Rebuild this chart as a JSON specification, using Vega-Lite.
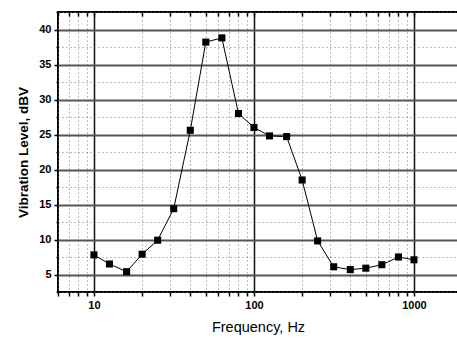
{
  "$schema": "https://vega.github.io/schema/vega-lite/v6.json",
  "width": 400,
  "height": 280,
  "autosize": {"type": "none"},
  "padding": {"left": 58, "top": 12, "right": 0, "bottom": 46},
  "config": {
    "font": "Liberation Sans",
    "view": {"stroke": "#000000", "strokeWidth": 2}
  },
  "data": {
    "values": [
      {"freq": 10, "level": 7.8},
      {"freq": 12.5, "level": 6.5},
      {"freq": 16, "level": 5.4},
      {"freq": 20, "level": 7.9},
      {"freq": 25, "level": 9.9},
      {"freq": 31.5, "level": 14.4},
      {"freq": 40, "level": 25.6},
      {"freq": 50, "level": 38.2},
      {"freq": 63, "level": 38.8},
      {"freq": 80, "level": 28.0},
      {"freq": 100, "level": 26.0},
      {"freq": 125, "level": 24.8},
      {"freq": 160, "level": 24.7},
      {"freq": 200, "level": 18.5},
      {"freq": 250, "level": 9.8},
      {"freq": 315, "level": 6.1},
      {"freq": 400, "level": 5.7},
      {"freq": 500, "level": 5.9},
      {"freq": 630, "level": 6.4},
      {"freq": 800, "level": 7.5},
      {"freq": 1000, "level": 7.1}
    ]
  },
  "resolve": {"axis": {"x": "independent", "y": "independent"}},
  "layer": [
    {
      "mark": {"type": "line", "color": "#000000", "strokeWidth": 1},
      "encoding": {
        "x": {
          "field": "freq",
          "type": "quantitative",
          "scale": {"type": "log", "domain": [5.96, 1884], "nice": false},
          "axis": {
            "orient": "bottom",
            "title": "Frequency, Hz",
            "titleFont": "Liberation Sans",
            "titleFontSize": 14.5,
            "titleFontWeight": "normal",
            "titleColor": "#000000",
            "titlePadding": 10,
            "values": [6, 7, 8, 9, 10, 20, 30, 40, 50, 60, 70, 80, 90, 100, 200, 300, 400, 500, 600, 700, 800, 900, 1000],
            "format": "d",
            "labelExpr": "(datum.value == 10 || datum.value == 100 || datum.value == 1000) ? datum.label : ''",
            "labelOverlap": false,
            "labelFontSize": 11,
            "labelFontWeight": "bold",
            "labelColor": "#000000",
            "labelPadding": 3,
            "domain": false,
            "ticks": true,
            "tickColor": "#000000",
            "tickWidth": 1.5,
            "tickSize": 4,
            "grid": true,
            "gridColor": {"condition": {"test": "datum.value == 10 || datum.value == 100 || datum.value == 1000", "value": "#111111"}, "value": "#777777"},
            "gridWidth": {"condition": {"test": "datum.value == 10 || datum.value == 100 || datum.value == 1000", "value": 1.5}, "value": 1},
            "gridDash": {"condition": {"test": "datum.value == 10 || datum.value == 100 || datum.value == 1000", "value": []}, "value": [1, 3]}
          }
        },
        "y": {
          "field": "level",
          "type": "quantitative",
          "scale": {"domain": [2.5, 42.5], "nice": false, "zero": false},
          "axis": {
            "orient": "left",
            "title": "Vibration Level, dBV",
            "titleFont": "Liberation Sans",
            "titleFontSize": 13.5,
            "titleFontWeight": "bold",
            "titleColor": "#000000",
            "titlePadding": 8,
            "values": [2.5, 5, 7.5, 10, 12.5, 15, 17.5, 20, 22.5, 25, 27.5, 30, 32.5, 35, 37.5, 40, 42.5],
            "labelExpr": "datum.value % 5 == 0 ? datum.label : ''",
            "labelOverlap": false,
            "labelFontSize": 11,
            "labelFontWeight": "bold",
            "labelColor": "#000000",
            "labelPadding": 3,
            "domain": false,
            "ticks": true,
            "tickColor": "#000000",
            "tickWidth": 1.5,
            "tickSize": {"condition": {"test": "datum.value % 5 == 0", "value": 4}, "value": 2},
            "grid": true,
            "gridColor": {"condition": {"test": "datum.value % 5 == 0", "value": "#555555"}, "value": "#777777"},
            "gridWidth": {"condition": {"test": "datum.value % 5 == 0", "value": 2}, "value": 1},
            "gridDash": {"condition": {"test": "datum.value % 5 == 0", "value": []}, "value": [1, 3]}
          }
        }
      }
    },
    {
      "mark": {"type": "square", "filled": true, "color": "#000000", "size": 50, "opacity": 1},
      "encoding": {
        "x": {
          "field": "freq",
          "type": "quantitative",
          "scale": {"type": "log", "domain": [5.96, 1884], "nice": false},
          "axis": {
            "orient": "top",
            "title": null,
            "values": [6, 7, 8, 9, 10, 20, 30, 40, 50, 60, 70, 80, 90, 100, 200, 300, 400, 500, 600, 700, 800, 900, 1000],
            "labels": false,
            "domain": false,
            "grid": false,
            "ticks": true,
            "tickColor": "#000000",
            "tickWidth": 1.5,
            "tickSize": -4
          }
        },
        "y": {
          "field": "level",
          "type": "quantitative",
          "scale": {"domain": [2.5, 42.5], "nice": false, "zero": false},
          "axis": null
        }
      }
    }
  ]
}
